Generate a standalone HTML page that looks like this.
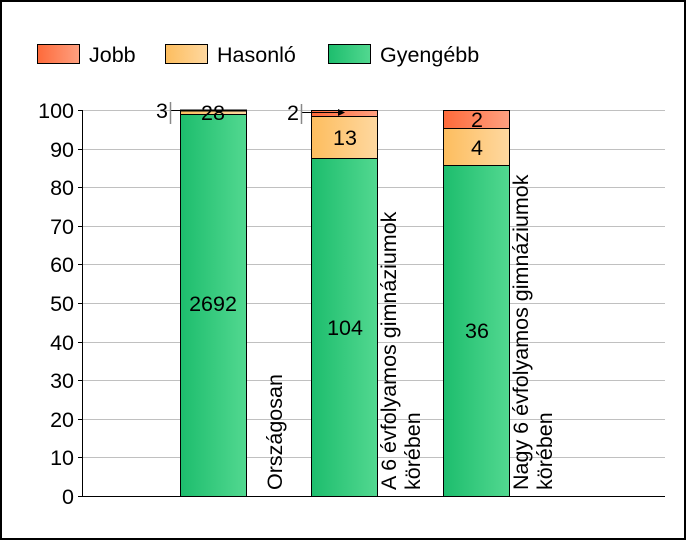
<!DOCTYPE html>
<html><head><meta charset="utf-8"><style>body{margin:0;background:#fff}svg{display:block;font-family:"Liberation Sans",sans-serif}</style></head><body>
<svg width="687" height="541" viewBox="0 0 687 541">
<defs>
<linearGradient id="g" x1="0" x2="1"><stop offset="0" stop-color="#1dbd6d"/><stop offset="1" stop-color="#52d890"/></linearGradient>
<linearGradient id="o" x1="0" x2="1"><stop offset="0" stop-color="#fdbd5e"/><stop offset="1" stop-color="#fed8a0"/></linearGradient>
<linearGradient id="r" x1="0" x2="1"><stop offset="0" stop-color="#fe6a3a"/><stop offset="1" stop-color="#fea080"/></linearGradient>
</defs>
<rect x="1" y="1" width="684" height="538" fill="#fff" stroke="#000" stroke-width="2"/>
<g font-size="21.5">
<rect x="37.5" y="44.5" width="42" height="19" fill="url(#r)" stroke="#000"/><text x="89" y="62">Jobb</text>
<rect x="165.5" y="44.5" width="42" height="19" fill="url(#o)" stroke="#000"/><text x="217" y="62">Hasonló</text>
<rect x="328.5" y="44.5" width="42" height="19" fill="url(#g)" stroke="#000"/><text x="380" y="62">Gyengébb</text>
</g>
<g stroke="#c0c0c0">
<line x1="82" x2="665" y1="110.5" y2="110.5"/><line x1="82" x2="665" y1="149.5" y2="149.5"/><line x1="82" x2="665" y1="187.5" y2="187.5"/><line x1="82" x2="665" y1="226.5" y2="226.5"/><line x1="82" x2="665" y1="264.5" y2="264.5"/><line x1="82" x2="665" y1="303.5" y2="303.5"/><line x1="82" x2="665" y1="342.5" y2="342.5"/><line x1="82" x2="665" y1="380.5" y2="380.5"/><line x1="82" x2="665" y1="419.5" y2="419.5"/><line x1="82" x2="665" y1="457.5" y2="457.5"/>
</g>
<g stroke="#000">
<line x1="82.5" y1="110" x2="82.5" y2="497"/><line x1="82" y1="496.5" x2="665" y2="496.5"/>
<line x1="78" x2="82" y1="110.5" y2="110.5"/><line x1="78" x2="82" y1="149.5" y2="149.5"/><line x1="78" x2="82" y1="187.5" y2="187.5"/><line x1="78" x2="82" y1="226.5" y2="226.5"/><line x1="78" x2="82" y1="264.5" y2="264.5"/><line x1="78" x2="82" y1="303.5" y2="303.5"/><line x1="78" x2="82" y1="342.5" y2="342.5"/><line x1="78" x2="82" y1="380.5" y2="380.5"/><line x1="78" x2="82" y1="419.5" y2="419.5"/><line x1="78" x2="82" y1="457.5" y2="457.5"/><line x1="78" x2="82" y1="496.5" y2="496.5"/>
</g>
<g font-size="21.5" text-anchor="end">
<text x="74" y="118">100</text><text x="74" y="157">90</text><text x="74" y="195">80</text><text x="74" y="234">70</text><text x="74" y="272">60</text><text x="74" y="311">50</text><text x="74" y="350">40</text><text x="74" y="388">30</text><text x="74" y="427">20</text><text x="74" y="465">10</text><text x="74" y="504">0</text>
</g>
<g stroke="#000">
<rect x="180.5" y="114.5" width="66" height="382" fill="url(#g)"/>
<rect x="180.5" y="111" width="66" height="3.5" fill="url(#o)"/>
<rect x="180.5" y="110" width="66" height="1" fill="url(#r)"/>
<rect x="311.5" y="158.5" width="66" height="338" fill="url(#g)"/>
<rect x="311.5" y="116.5" width="66" height="42" fill="url(#o)"/>
<rect x="311.5" y="110.5" width="66" height="6" fill="url(#r)"/>
<rect x="443.5" y="165.5" width="66" height="331" fill="url(#g)"/>
<rect x="443.5" y="128.5" width="66" height="37" fill="url(#o)"/>
<rect x="443.5" y="110.5" width="66" height="18" fill="url(#r)"/>
<line x1="170" y1="110.5" x2="190" y2="110.5"/><line x1="301" y1="112.5" x2="340" y2="112.5"/>
</g>
<path d="M338 109 L345 112.5 L338 116Z" fill="#000"/>
<line x1="170.5" y1="102" x2="170.5" y2="124" stroke="#888" stroke-width="1.5"/>
<line x1="301.5" y1="104" x2="301.5" y2="124" stroke="#888" stroke-width="1.5"/>
<g font-size="21.5" text-anchor="middle">
<text x="162" y="118">3</text><text x="293" y="120">2</text>
<text x="213" y="120">28</text><text x="213" y="311">2692</text>
<text x="345" y="145">13</text><text x="345" y="335">104</text>
<text x="477" y="127">2</text><text x="477" y="155">4</text><text x="477" y="338">36</text>
</g>
<g font-size="21.5">
<text transform="translate(282,490) rotate(-90)">Országosan</text>
<text transform="translate(396,490) rotate(-90)">A 6 évfolyamos gimnáziumok</text>
<text transform="translate(420,490) rotate(-90)">körében</text>
<text transform="translate(528,490) rotate(-90)">Nagy 6 évfolyamos gimnáziumok</text>
<text transform="translate(552,490) rotate(-90)">körében</text>
</g>
</svg>
</body></html>
